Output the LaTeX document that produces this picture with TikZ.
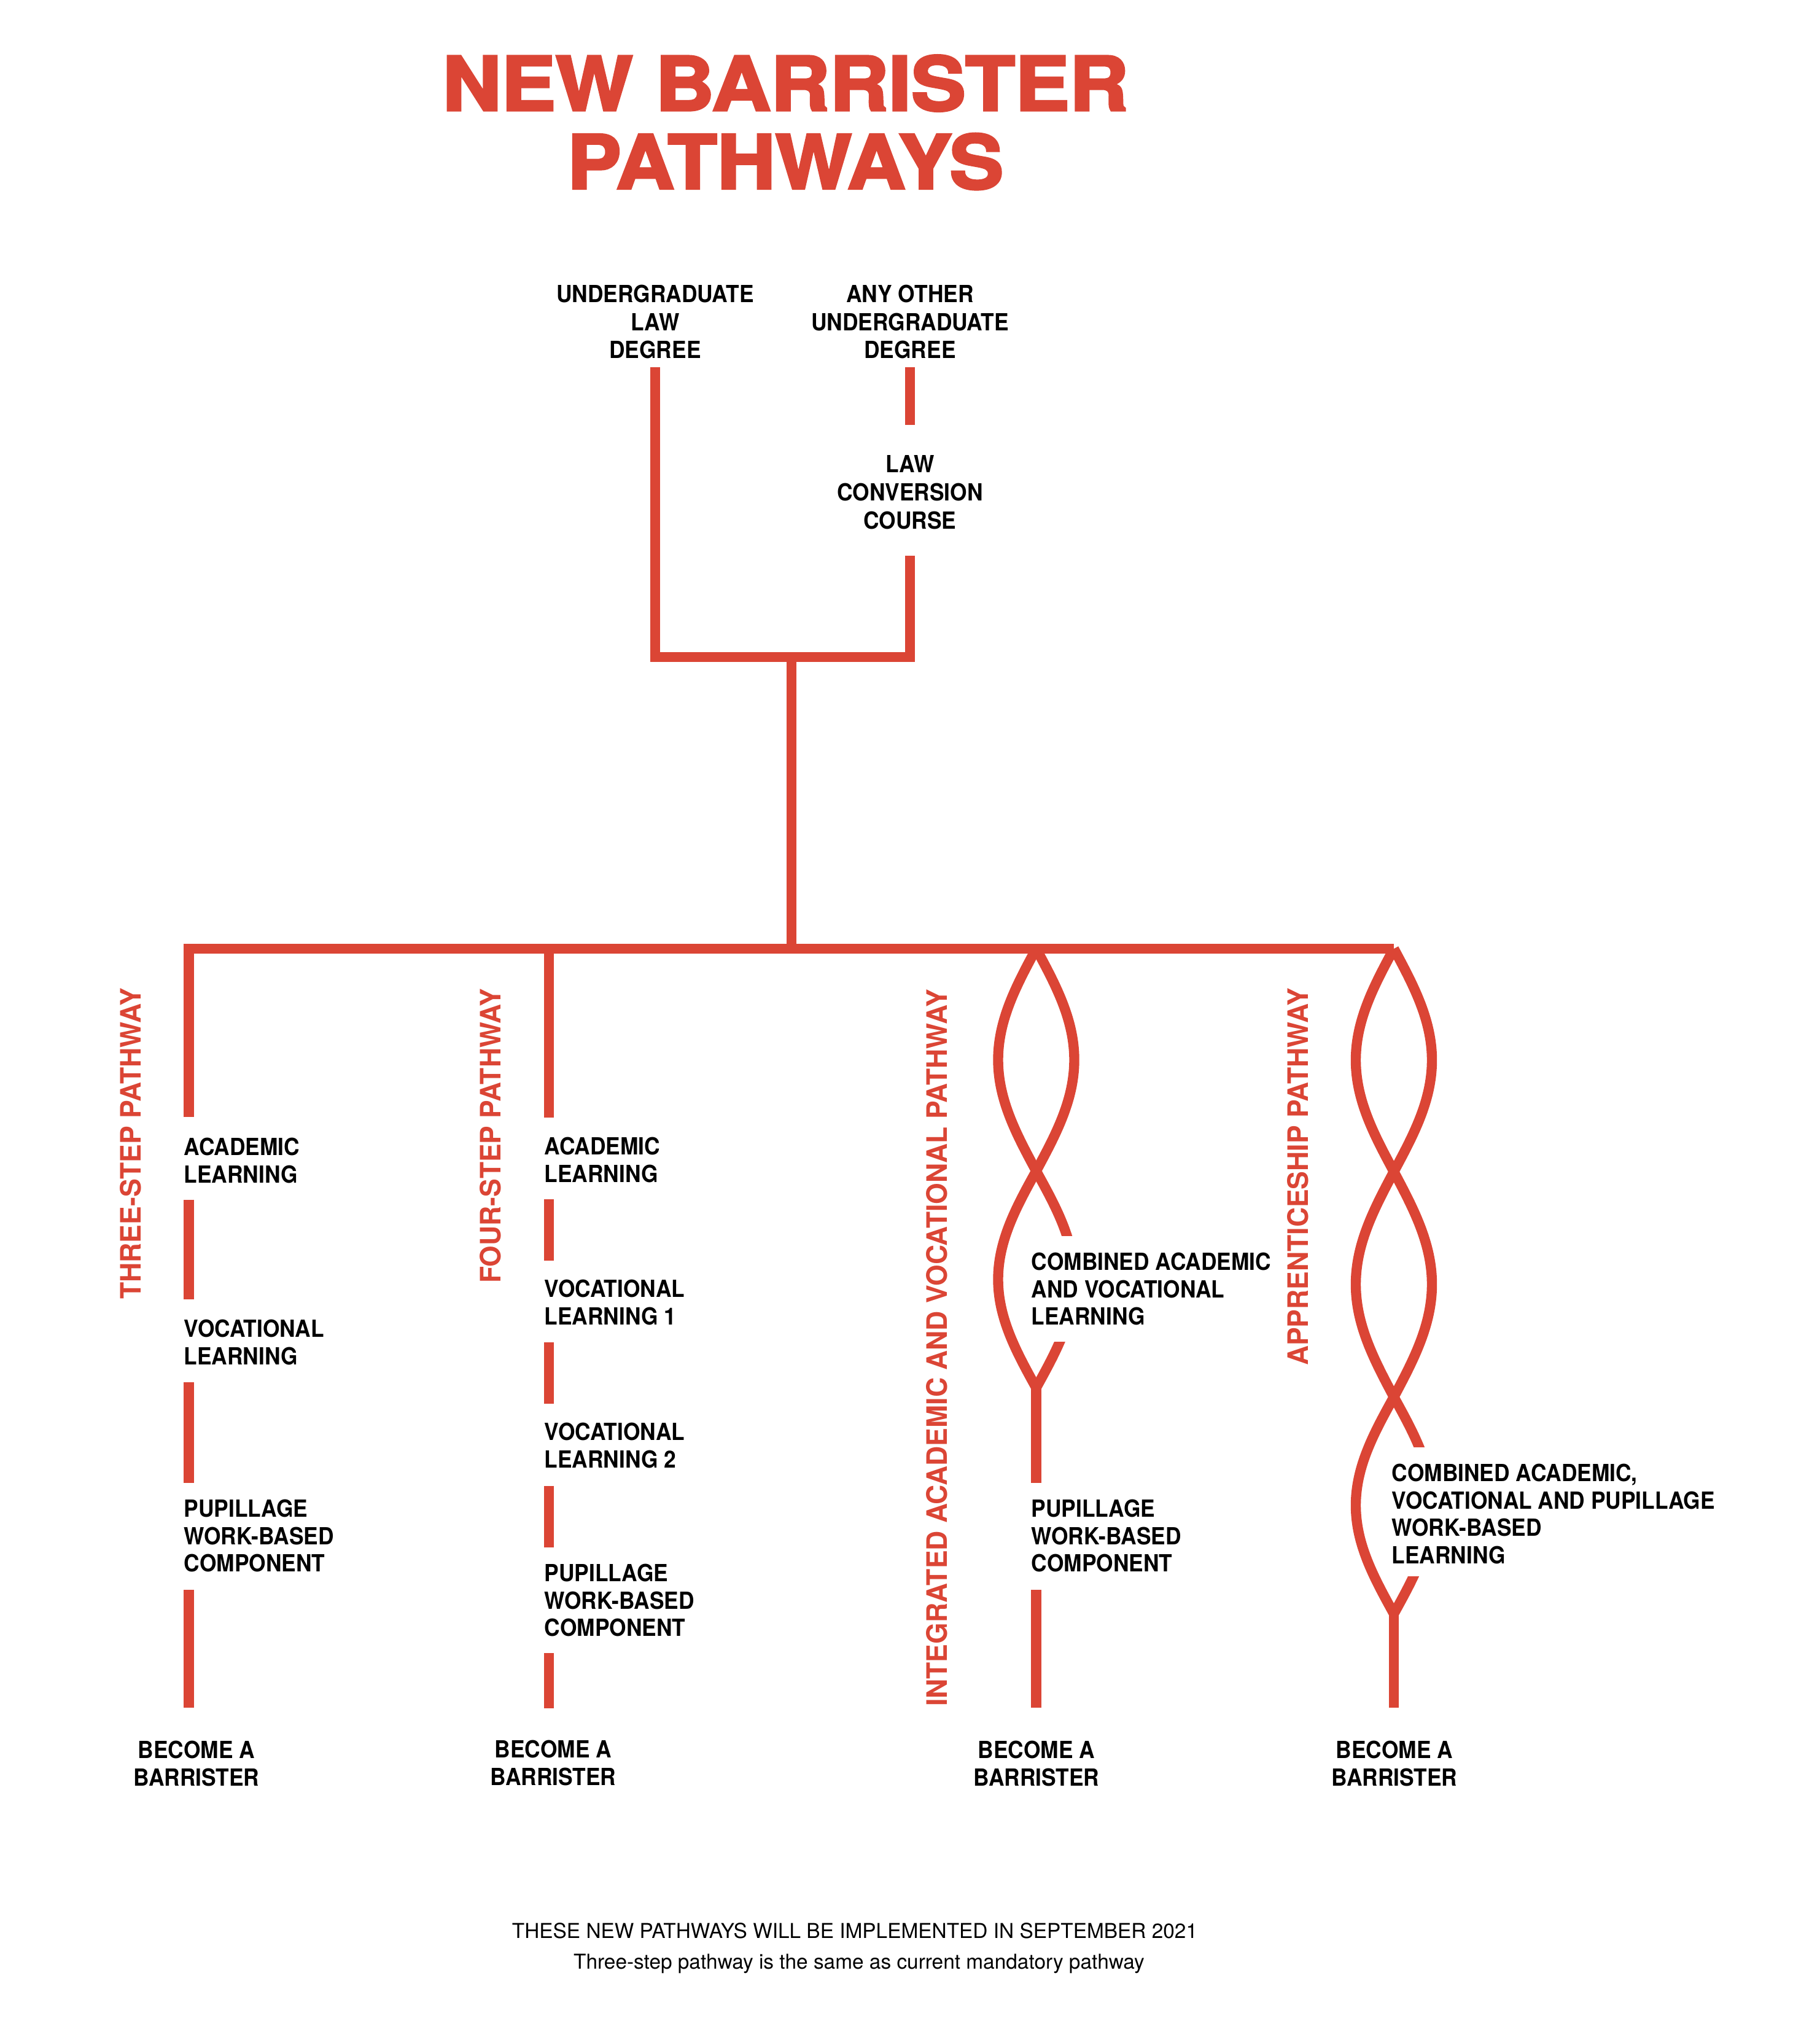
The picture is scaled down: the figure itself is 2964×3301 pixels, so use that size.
\documentclass[tikz,border=0pt]{standalone}
\usepackage{fontspec}
\usepackage{graphicx}
\setmainfont{TeX Gyre Heros}
\newfontfamily\bodyfont{TeX Gyre Heros}[FakeStretch=0.92]
\newfontfamily\titlefont{TeX Gyre Heros}[BoldFeatures={FakeBold=3}]
\definecolor{brred}{RGB}{219,69,53}
\newlength\pxu
\setlength\pxu{0.25pt}
\newcommand\fitbox[3]{\resizebox{#1\pxu}{#2\pxu}{#3}}
\newcommand\lobe[4]{\draw[redline] plot[domain=0:180,samples=91] ({#1+(#4)*sin(\x)},{#2+((#3-#2)/180)*\x});}
\tikzset{
  redline/.style={draw=brred,line width=4.1pt,line cap=butt,line join=miter},
  titlestyle/.style={anchor=north,inner sep=0pt,align=center,text=brred,
    font={\titlefont\bfseries\fontsize{30pt}{31.875pt}\selectfont}},
  toptext/.style={anchor=north,inner sep=0pt,align=center,
    font={\bodyfont\bfseries\fontsize{9.6pt}{11.4pt}\selectfont}},
  stepbox/.style={anchor=north west,inner sep=0pt,align=left,
    font={\bodyfont\bfseries\fontsize{9.6pt}{11.2pt}\selectfont}},
  pathlabel/.style={anchor=east,inner sep=0pt,rotate=90,text=brred,font=\bfseries},
  footnote/.style={inner sep=0pt,anchor=base,font={\fontsize{8.35pt}{10pt}\selectfont}}
}
\begin{document}
\begin{tikzpicture}[x=0.25pt,y=-0.25pt]
\fill[white] (0,0) rectangle (2964,3301);
\useasboundingbox (0,0) rectangle (2964,3301);

% title
\node[titlestyle] (title) at (1279,89) {\fitbox{1117}{90}{NEW BARRISTER}\\\fitbox{710}{90}{PATHWAYS}};

% top nodes
\node[toptext] (law) at (1067,463.5) {UNDERGRADUATE\\LAW\\DEGREE};
\node[toptext] (other) at (1482,463.5) {ANY OTHER\\UNDERGRADUATE\\DEGREE};
\node[toptext] (conv) at (1482,741) {LAW\\CONVERSION\\COURSE};

\coordinate (lawA) at (1067,598);
\coordinate (jL) at (1067,1070);
\coordinate (jR) at (1482,1070);
\coordinate (convB) at (1482,904.5);
\coordinate (otherA) at (1482,598);
\coordinate (convA) at (1482,692);
\coordinate (stemT) at (1289,1070);
\coordinate (stemB) at (1289,1545);
\draw[redline] (lawA) -- (jL) -- (jR) -- (convB);
\draw[redline] (otherA) -- (convA);
\draw[redline] (stemT) -- (stemB);

% main bar
\coordinate (barL) at (307.5,1545);
\coordinate (barR) at (2270,1545);
\coordinate (c1a) at (307.5,1819);
\draw[redline] (c1a) -- (barL) -- (barR);

% pathway labels
\node[pathlabel] (lab1) at (213,1608) {\fitbox{507}{34}{THREE-STEP PATHWAY}};
\node[pathlabel] (lab2) at (799,1609) {\fitbox{480}{34}{FOUR-STEP PATHWAY}};
\node[pathlabel] (lab3) at (1526,1610) {\fitbox{1168}{34}{INTEGRATED ACADEMIC AND VOCATIONAL PATHWAY}};
\node[pathlabel] (lab4) at (2113.5,1608) {\fitbox{615}{34}{APPRENTICESHIP PATHWAY}};

% column 1
\node[stepbox] (a1) at (299,1852) {ACADEMIC\\LEARNING};
\node[stepbox] (v1) at (299,2148) {VOCATIONAL\\LEARNING};
\node[stepbox] (p1) at (299,2441) {PUPILLAGE\\WORK-BASED\\COMPONENT};
\node[toptext] (b1) at (320,2834) {BECOME A\\BARRISTER};
\coordinate (c1b) at (307.5,1953.5); \coordinate (c1c) at (307.5,2116);
\coordinate (c1d) at (307.5,2251); \coordinate (c1e) at (307.5,2414.6);
\coordinate (c1f) at (307.5,2589); \coordinate (c1g) at (307.5,2781);
\draw[redline] (c1b) -- (c1c);
\draw[redline] (c1d) -- (c1e);
\draw[redline] (c1f) -- (c1g);

% column 2
\node[stepbox] (a2) at (886,1851) {ACADEMIC\\LEARNING};
\node[stepbox] (v21) at (886,2083.5) {VOCATIONAL\\LEARNING 1};
\node[stepbox] (v22) at (886,2316) {VOCATIONAL\\LEARNING 2};
\node[stepbox] (p2) at (886,2546) {PUPILLAGE\\WORK-BASED\\COMPONENT};
\node[toptext] (b2) at (901,2833) {BECOME A\\BARRISTER};
\coordinate (c2t) at (894,1545); \coordinate (c2a) at (894,1820);
\coordinate (c2b) at (894,1953); \coordinate (c2c) at (894,2052.7);
\coordinate (c2d) at (894,2186); \coordinate (c2e) at (894,2286);
\coordinate (c2f) at (894,2419.6); \coordinate (c2g) at (894,2519.6);
\coordinate (c2h) at (894,2692); \coordinate (c2i) at (894,2781.7);
\draw[redline] (c2t) -- (c2a);
\draw[redline] (c2b) -- (c2c);
\draw[redline] (c2d) -- (c2e);
\draw[redline] (c2f) -- (c2g);
\draw[redline] (c2h) -- (c2i);

% column 3 (integrated) braid
\lobe{1687.5}{1545}{1907}{-62}
\lobe{1687.5}{1545}{1907}{62}
\lobe{1687.5}{1907}{2260}{-62}
\begin{scope}
  \clip (1600,1900) rectangle (1780,2012);
  \lobe{1687.5}{1907}{2260}{62}
\end{scope}
\begin{scope}
  \clip (1600,2185) rectangle (1780,2270);
  \lobe{1687.5}{1907}{2260}{62}
\end{scope}
\coordinate (c3a) at (1687.5,2260); \coordinate (c3b) at (1687.5,2414.6);
\coordinate (c3c) at (1687.5,2589); \coordinate (c3d) at (1687.5,2781);
\draw[redline] (c3a) -- (c3b);
\draw[redline] (c3c) -- (c3d);
\node[stepbox] (m3) at (1679,2039) {COMBINED ACADEMIC\\AND VOCATIONAL\\LEARNING};
\node[stepbox] (p3) at (1679,2441) {PUPILLAGE\\WORK-BASED\\COMPONENT};
\node[toptext] (b3) at (1688,2834) {BECOME A\\BARRISTER};

% column 4 (apprenticeship) braid
\lobe{2270}{1545}{1908}{-62}
\lobe{2270}{1545}{1908}{62}
\lobe{2270}{1908}{2275}{-62}
\lobe{2270}{1908}{2275}{62}
\lobe{2270}{2275}{2628}{-62}
\begin{scope}
  \clip (2180,2270) rectangle (2360,2356.5);
  \lobe{2270}{2275}{2628}{62}
\end{scope}
\begin{scope}
  \clip (2180,2567) rectangle (2360,2640);
  \lobe{2270}{2275}{2628}{62}
\end{scope}
\coordinate (c4a) at (2270,2628); \coordinate (c4b) at (2270,2781);
\draw[redline] (c4a) -- (c4b);
\node[stepbox] (m4) at (2266,2383) {COMBINED ACADEMIC,\\VOCATIONAL AND PUPILLAGE\\WORK-BASED\\LEARNING};
\node[toptext] (b4) at (2271,2834) {BECOME A\\BARRISTER};

% footer
\node[footnote] (note1) at (1392,3156) {THESE NEW PATHWAYS WILL BE IMPLEMENTED IN SEPTEMBER 2021};
\node[footnote] (note2) at (1399,3206) {Three-step pathway is the same as current mandatory pathway};
\end{tikzpicture}
\end{document}
